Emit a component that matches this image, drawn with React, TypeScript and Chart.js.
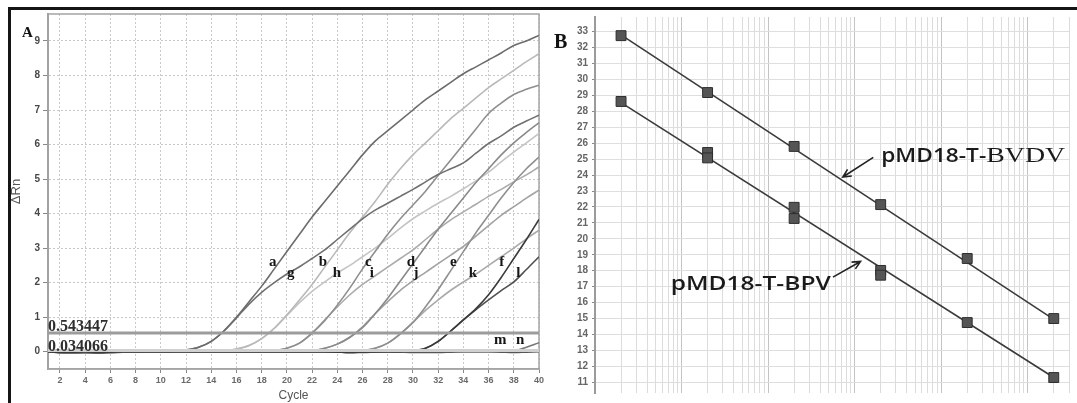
import React, { useEffect, useRef } from "react";
import { Chart, registerables } from "chart.js";

Chart.register(...registerables);
Chart.defaults.font.family = '"Liberation Sans", Arial, sans-serif';

// ---------------- Panel A : amplification curves ----------------
const cycles = [1, 2, 3, 4, 5, 6, 7, 8, 9, 10, 11, 12, 13, 14, 15, 16, 17, 18, 19, 20, 21, 22, 23, 24, 25, 26, 27, 28, 29, 30, 31, 32, 33, 34, 35, 36, 37, 38, 39, 40];
const cycleTicks = [2, 4, 6, 8, 10, 12, 14, 16, 18, 20, 22, 24, 26, 28, 30, 32, 34, 36, 38, 40];
const deltaRnTicks = [0, 1, 2, 3, 4, 5, 6, 7, 8, 9];

const curveNames = ["a", "b", "c", "d", "e", "f", "g", "h", "i", "j", "k", "l", "m", "n"];

const curveA = [0.01, -0.03, -0.04, -0.02, -0.04, -0.02, -0.01, -0.01, 0, 0, 0.01, 0.05, 0.13, 0.3, 0.6, 1.0, 1.45, 1.9, 2.4, 2.9, 3.4, 3.9, 4.35, 4.8, 5.25, 5.7, 6.1, 6.4, 6.7, 7.0, 7.3, 7.55, 7.8, 8.05, 8.25, 8.45, 8.65, 8.87, 9.0, 9.16];
const curveB = [0, -0.02, -0.03, -0.02, -0.03, -0.02, -0.01, 0, 0, 0, 0, 0, 0, 0.01, 0.03, 0.08, 0.18, 0.38, 0.68, 1.07, 1.5, 1.95, 2.45, 2.95, 3.45, 3.9, 4.35, 4.85, 5.3, 5.7, 6.05, 6.4, 6.75, 7.05, 7.35, 7.65, 7.9, 8.15, 8.4, 8.63];
const curveC = [0, -0.02, -0.03, -0.02, -0.03, -0.02, -0.01, 0, 0, 0, 0, 0, 0, 0, 0, 0, 0.01, 0.01, 0.03, 0.1, 0.25, 0.54, 0.9, 1.35, 1.85, 2.4, 2.9, 3.4, 3.85, 4.25, 4.65, 5.1, 5.55, 6.0, 6.45, 6.9, 7.2, 7.45, 7.6, 7.72];
const curveD = [0, -0.01, -0.02, -0.02, -0.03, -0.01, 0, 0, 0, 0, 0, 0, 0, 0, 0, 0, 0, 0, 0, 0, 0.01, 0.03, 0.1, 0.22, 0.42, 0.7, 1.1, 1.55, 2.05, 2.55, 3.05, 3.55, 4.0, 4.45, 4.9, 5.3, 5.7, 6.05, 6.35, 6.63];
const curveE = [0, -0.01, -0.02, -0.01, -0.02, -0.01, 0, 0, 0, 0, 0, 0, 0, 0, 0, 0, 0, 0, 0, 0, 0, 0, 0, 0, 0.01, 0.03, 0.1, 0.25, 0.52, 0.85, 1.3, 1.8, 2.35, 2.9, 3.45, 3.95, 4.45, 4.9, 5.3, 5.64];
const curveF = [0, -0.01, -0.01, 0, -0.02, -0.01, 0, 0, 0, 0, 0, 0, 0, 0, 0, 0, 0, 0, 0, 0, 0, 0, 0, -0.01, -0.02, -0.01, 0, 0, 0.01, 0.03, 0.1, 0.3, 0.6, 0.92, 1.25, 1.65, 2.15, 2.7, 3.25, 3.83];
const curveG = [0.01, -0.03, -0.04, -0.02, -0.04, -0.02, -0.01, -0.01, 0, 0, 0.01, 0.05, 0.13, 0.3, 0.6, 0.98, 1.38, 1.72, 2.0, 2.25, 2.46, 2.7, 2.95, 3.25, 3.55, 3.85, 4.1, 4.3, 4.5, 4.7, 4.92, 5.13, 5.3, 5.47, 5.75, 6.03, 6.25, 6.5, 6.68, 6.85];
const curveH = [0, -0.02, -0.03, -0.02, -0.03, -0.02, -0.01, 0, 0, 0, 0, 0, 0, 0.01, 0.03, 0.08, 0.18, 0.38, 0.68, 1.05, 1.42, 1.75, 2.02, 2.28, 2.5, 2.75, 3.0, 3.28, 3.58, 3.85, 4.08, 4.3, 4.5, 4.72, 4.95, 5.2, 5.5, 5.78, 6.05, 6.32];
const curveI = [0, -0.02, -0.03, -0.02, -0.03, -0.02, -0.01, 0, 0, 0, 0, 0, 0, 0, 0, 0, 0.01, 0.01, 0.03, 0.1, 0.25, 0.54, 0.92, 1.3, 1.65, 1.95, 2.2, 2.45, 2.7, 2.95, 3.25, 3.55, 3.82, 4.05, 4.27, 4.5, 4.7, 4.92, 5.12, 5.35];
const curveJ = [0, -0.01, -0.02, -0.02, -0.03, -0.01, 0, 0, 0, 0, 0, 0, 0, 0, 0, 0, 0, 0, 0, 0, 0.01, 0.03, 0.1, 0.22, 0.42, 0.72, 1.1, 1.45, 1.78, 2.05, 2.3, 2.55, 2.8, 3.05, 3.35, 3.65, 3.95, 4.2, 4.45, 4.68];
const curveK = [0, -0.01, -0.02, -0.01, -0.02, -0.01, 0, 0, 0, 0, 0, 0, 0, 0, 0, 0, 0, 0, 0, 0, 0, 0, 0, 0, 0.01, 0.03, 0.1, 0.25, 0.52, 0.85, 1.2, 1.5, 1.78, 2.02, 2.25, 2.5, 2.75, 3.0, 3.27, 3.52];
const curveL = [0, -0.01, -0.01, 0, -0.02, -0.01, 0, 0, 0, 0, 0, 0, 0, 0, 0, 0, 0, 0, 0, 0, 0, 0, 0, -0.01, -0.02, -0.01, 0, 0, 0.01, 0.03, 0.1, 0.3, 0.6, 0.92, 1.22, 1.5, 1.77, 2.02, 2.38, 2.75];
const curveM = [0, -0.02, -0.03, -0.01, -0.02, -0.01, 0, 0.01, 0, 0, 0, 0, 0.01, 0, -0.01, 0, 0, 0, 0, 0, 0, 0, 0, -0.01, -0.02, -0.02, -0.01, 0, -0.01, -0.02, -0.02, -0.02, -0.01, 0, 0, 0, -0.01, -0.02, -0.01, 0];
const curveN = [0, -0.02, -0.03, -0.01, -0.02, -0.01, 0, 0, 0, 0, 0, 0, 0, 0, 0, 0, 0, 0, 0, 0, 0, 0, 0, 0, -0.01, -0.01, 0, 0, 0, -0.01, -0.01, -0.01, 0, 0, 0, 0, 0, 0.02, 0.13, 0.26];

const curveSeries = [curveA, curveB, curveC, curveD, curveE, curveF, curveG, curveH, curveI, curveJ, curveK, curveL, curveM, curveN];
const curveColors = ["#6c6c6c", "#b9b9b9", "#8e8e8e", "#8a8a8a", "#8f8f8f", "#3a3a3a", "#707070", "#c4c4c4", "#aaaaaa", "#a2a2a2", "#aaaaaa", "#505050", "#555555", "#777777"];
// draw order: dark curves on top
const curveDrawOrder = [5, 11, 0, 6, 2, 3, 4, 12, 13, 8, 9, 10, 1, 7];

const labelCycle = [18.87, 22.85, 26.47, 29.83, 33.2, 37.05, 20.3, 23.96, 26.73, 30.25, 34.75, 38.37, 36.92, 38.5];
const labelDeltaRn = [2.49, 2.49, 2.49, 2.49, 2.49, 2.49, 2.17, 2.17, 2.17, 2.17, 2.17, 2.17, 0.23, 0.23];

const thresholdValues = [0.543447, 0.034066];
const thresholdLabels = ["0.543447", "0.034066"];
const thresholdColors = ["#9c9c9c", "#d0d0d0"];

// ---------------- Panel B : standard curves ----------------
const ctTicks = [11, 12, 13, 14, 15, 16, 17, 18, 19, 20, 21, 22, 23, 24, 25, 26, 27, 28, 29, 30, 31, 32, 33];
const copyDecades = [1, 10, 100, 1000, 10000, 100000];
const logGridSteps = [1, 2, 3, 4, 5, 6, 7, 8, 9];

const bvdvCopies = [2, 20, 200, 2000, 20000, 200000];
const bvdvCt = [32.75, 29.18, 25.8, 22.15, 18.77, 15.0];
const bpvCopies = [2, 20, 20, 200, 200, 2000, 2000, 20000, 200000];
const bpvCt = [28.62, 25.42, 25.08, 21.98, 21.28, 18.02, 17.72, 14.75, 11.3];
const bvdvFitCopies = [2, 200000];
const bvdvFitCt = [32.8, 14.95];
const bpvFitCopies = [2, 200000];
const bpvFitCt = [28.55, 11.3];

const bvdvArrowCopies = [1644, 731];
const bvdvArrowCt = [25.11, 23.88];
const bpvArrowCopies = [562, 1170];
const bpvArrowCt = [17.6, 18.58];
const bvdvTagAt = [2030, 24.8];
const bpvTagAt = [7.5, 16.8];

function drawArrow(ctx: any, x1: number, y1: number, x2: number, y2: number) {
  const ang = Math.atan2(y2 - y1, x2 - x1);
  const len = 9;
  ctx.beginPath();
  ctx.moveTo(x1, y1);
  ctx.lineTo(x2, y2);
  ctx.moveTo(x2 - len * Math.cos(ang - 0.45), y2 - len * Math.sin(ang - 0.45));
  ctx.lineTo(x2, y2);
  ctx.lineTo(x2 - len * Math.cos(ang + 0.45), y2 - len * Math.sin(ang + 0.45));
  ctx.stroke();
}

function drawFitted(ctx: any, text: string, x: number, y: number, width: number) {
  const w = ctx.measureText(text).width;
  ctx.save();
  ctx.translate(x, y);
  ctx.scale(width / w, 1);
  ctx.fillText(text, 0, 0);
  ctx.restore();
  return width;
}

const panelAPlugin = {
  id: "panelA",
  beforeDatasetsDraw(chart: any) {
    const { ctx, chartArea: ca } = chart;
    ctx.save();
    ctx.strokeStyle = "#a4a4a4";
    ctx.lineWidth = 1.5;
    ctx.strokeRect(ca.left, ca.top, ca.right - ca.left, ca.bottom - ca.top);
    ctx.restore();
  },
  afterDatasetsDraw(chart: any) {
    const { ctx, chartArea: ca, scales } = chart;
    const x = scales.x;
    const y = scales.y;
    ctx.save();
    ctx.fillStyle = "#2e2e2e";
    ctx.font = 'bold 16px "Liberation Serif", serif';
    ctx.textAlign = "left";
    ctx.textBaseline = "alphabetic";
    thresholdLabels.forEach((t, i) => {
      ctx.fillText(t, ca.left, y.getPixelForValue(thresholdValues[i]) - (i === 0 ? 1.5 : 0));
    });
    ctx.fillStyle = "#151515";
    ctx.font = 'bold 15px "Liberation Serif", serif';
    ctx.textAlign = "center";
    curveNames.forEach((n, i) => {
      ctx.fillText(n, x.getPixelForValue(labelCycle[i]), y.getPixelForValue(labelDeltaRn[i]));
    });
    ctx.textAlign = "left";
    ctx.fillStyle = "#111";
    ctx.font = 'bold 15px "Liberation Serif", serif';
    ctx.fillText("A", ca.left - 26, 37);
    ctx.restore();
  },
};

const panelBPlugin = {
  id: "panelB",
  afterDatasetsDraw(chart: any) {
    const { ctx, scales } = chart;
    const x = scales.x;
    const y = scales.y;
    ctx.save();
    ctx.fillStyle = "#111";
    ctx.textAlign = "left";
    ctx.textBaseline = "alphabetic";
    ctx.font = 'bold 20px "Liberation Serif", serif';
    ctx.fillText("B", 4, 48);

    ctx.strokeStyle = "#222";
    ctx.lineWidth = 1.6;
    drawArrow(ctx, x.getPixelForValue(bvdvArrowCopies[0]), y.getPixelForValue(bvdvArrowCt[0]), x.getPixelForValue(bvdvArrowCopies[1]), y.getPixelForValue(bvdvArrowCt[1]));
    drawArrow(ctx, x.getPixelForValue(bpvArrowCopies[0]), y.getPixelForValue(bpvArrowCt[0]), x.getPixelForValue(bpvArrowCopies[1]), y.getPixelForValue(bpvArrowCt[1]));

    ctx.fillStyle = "#1a1a1a";
    const tx = x.getPixelForValue(bvdvTagAt[0]);
    const ty = y.getPixelForValue(bvdvTagAt[1]);
    ctx.font = '600 19px "Open Sans", "DejaVu Sans", sans-serif';
    const w1 = drawFitted(ctx, "pMD18-T-", tx, ty, 105);
    ctx.font = '20px "Liberation Serif", serif';
    drawFitted(ctx, "BVDV", tx + w1, ty, 79);

    ctx.font = '600 19px "Open Sans", "DejaVu Sans", sans-serif';
    drawFitted(ctx, "pMD18-T-BPV", x.getPixelForValue(bpvTagAt[0]), y.getPixelForValue(bpvTagAt[1]), 160);
    ctx.restore();
  },
};

function isDecade(v: number) {
  const l = Math.log10(v);
  return Math.abs(l - Math.round(l)) < 1e-9;
}

export default function App() {
  const refA = useRef<HTMLCanvasElement>(null);
  const refB = useRef<HTMLCanvasElement>(null);

  useEffect(() => {
    const curveDatasets = curveDrawOrder.map((idx) => ({
      label: curveNames[idx],
      data: cycles.map((c, i) => ({ x: c, y: curveSeries[idx][i] })),
      borderColor: curveColors[idx],
      borderWidth: 1.6,
      pointRadius: 0,
      fill: false,
      cubicInterpolationMode: "monotone" as const,
      order: 1,
    }));
    const thresholdDatasets = thresholdValues.map((v, i) => ({
      label: thresholdLabels[i],
      data: [
        { x: 1.05, y: v },
        { x: 40, y: v },
      ],
      borderColor: thresholdColors[i],
      borderWidth: 3,
      pointRadius: 0,
      fill: false,
      order: 0,
    }));

    const chartA = new Chart(refA.current as HTMLCanvasElement, {
      type: "line",
      data: { datasets: [...thresholdDatasets, ...curveDatasets] as any },
      options: {
        animation: false,
        responsive: false,
        devicePixelRatio: 1,
        events: [],
        layout: { padding: { left: 0, top: 14, right: 11, bottom: 0 } },
        plugins: { legend: { display: false }, tooltip: { enabled: false } },
        scales: {
          x: {
            type: "linear",
            min: 1.05,
            max: 40,
            afterBuildTicks: (s: any) => {
              s.ticks = cycleTicks.map((v) => ({ value: v }));
            },
            afterFit: (s: any) => {
              s.height = 34;
            },
            ticks: { font: { size: 9, weight: "bold" }, color: "#6a6a6a", padding: 2, maxRotation: 0, autoSkip: false },
            grid: { color: "#c9c9c9", lineWidth: 1, tickLength: 4, tickColor: "#888" },
            border: { display: true, color: "#a4a4a4", width: 1.5, dash: [2, 2] },
            title: { display: true, text: "Cycle", color: "#555", font: { size: 12 }, padding: { top: 0, bottom: 0 } },
          },
          y: {
            type: "linear",
            min: -0.5,
            max: 9.78,
            afterBuildTicks: (s: any) => {
              s.ticks = deltaRnTicks.map((v) => ({ value: v }));
            },
            afterFit: (s: any) => {
              s.width = 48;
            },
            ticks: { font: { size: 10, weight: "bold" }, color: "#474747", padding: 3 },
            grid: { color: "#c9c9c9", lineWidth: 1, tickLength: 5, tickColor: "#888" },
            border: { display: true, color: "#9c9c9c", width: 2, dash: [2, 2] },
            title: { display: true, text: "ΔRn", color: "#555", font: { size: 13 }, padding: { top: 9, bottom: 0 } },
          },
        },
      },
      plugins: [panelAPlugin],
    } as any);

    const logGridValues: number[] = [];
    copyDecades.forEach((d) => logGridSteps.forEach((s) => {
      if (d * s <= 300000) logGridValues.push(d * s);
    }));

    const chartB = new Chart(refB.current as HTMLCanvasElement, {
      type: "line",
      data: {
        datasets: [
          {
            label: "BVDV",
            data: bvdvCopies.map((c, i) => ({ x: c, y: bvdvCt[i] })),
            showLine: false,
            pointStyle: "rect",
            pointRadius: 7,
            pointBackgroundColor: "#555",
            pointBorderColor: "#2e2e2e",
            pointBorderWidth: 1,
            order: 0,
          },
          {
            label: "BPV",
            data: bpvCopies.map((c, i) => ({ x: c, y: bpvCt[i] })),
            showLine: false,
            pointStyle: "rect",
            pointRadius: 7,
            pointBackgroundColor: "#555",
            pointBorderColor: "#2e2e2e",
            pointBorderWidth: 1,
            order: 0,
          },
          {
            label: "BVDV fit",
            data: bvdvFitCopies.map((c, i) => ({ x: c, y: bvdvFitCt[i] })),
            borderColor: "#3a3a3a",
            borderWidth: 1.6,
            pointRadius: 0,
            order: 1,
          },
          {
            label: "BPV fit",
            data: bpvFitCopies.map((c, i) => ({ x: c, y: bpvFitCt[i] })),
            borderColor: "#3a3a3a",
            borderWidth: 1.6,
            pointRadius: 0,
            order: 1,
          },
        ],
      },
      options: {
        animation: false,
        responsive: false,
        devicePixelRatio: 1,
        events: [],
        layout: { padding: { left: 0, top: 17, right: 0, bottom: 3 } },
        plugins: { legend: { display: false }, tooltip: { enabled: false } },
        scales: {
          x: {
            type: "logarithmic",
            min: 1,
            max: 300000,
            afterBuildTicks: (s: any) => {
              s.ticks = logGridValues.map((v) => ({ value: v }));
            },
            afterFit: (s: any) => {
              s.height = 0;
            },
            ticks: { display: false },
            grid: {
              drawTicks: false,
              lineWidth: 1,
              color: (c: any) => (c.tick && isDecade(c.tick.value) ? "#c4c4c4" : "#dcdcdc"),
            },
            border: { display: false },
          },
          y: {
            type: "linear",
            min: 10.33,
            max: 33.92,
            afterBuildTicks: (s: any) => {
              s.ticks = ctTicks.map((v) => ({ value: v }));
            },
            afterFit: (s: any) => {
              s.width = 45;
            },
            ticks: { font: { size: 10, weight: "bold" }, color: "#666", padding: 4 },
            grid: { color: "#dedede", lineWidth: 1, tickLength: 3, tickColor: "#888" },
            border: { display: true, color: "#9a9a9a", width: 2 },
          },
        },
      },
      plugins: [panelBPlugin],
    } as any);

    return () => {
      chartA.destroy();
      chartB.destroy();
    };
  }, []);

  return (
    <div style={{ position: "fixed", left: 0, top: 0, width: 1077, height: 403, overflow: "hidden", background: "#fff" }}>
      <canvas ref={refA} width={550} height={403} style={{ position: "absolute", left: 0, top: 0, width: 550, height: 403 }} />
      <canvas ref={refB} width={527} height={403} style={{ position: "absolute", left: 550, top: 0, width: 527, height: 403 }} />
      <div style={{ position: "absolute", left: 8, top: 7, width: 1080, height: 410, borderTop: "3px solid #151515", borderLeft: "3px solid #151515", pointerEvents: "none" }} />
    </div>
  );
}
